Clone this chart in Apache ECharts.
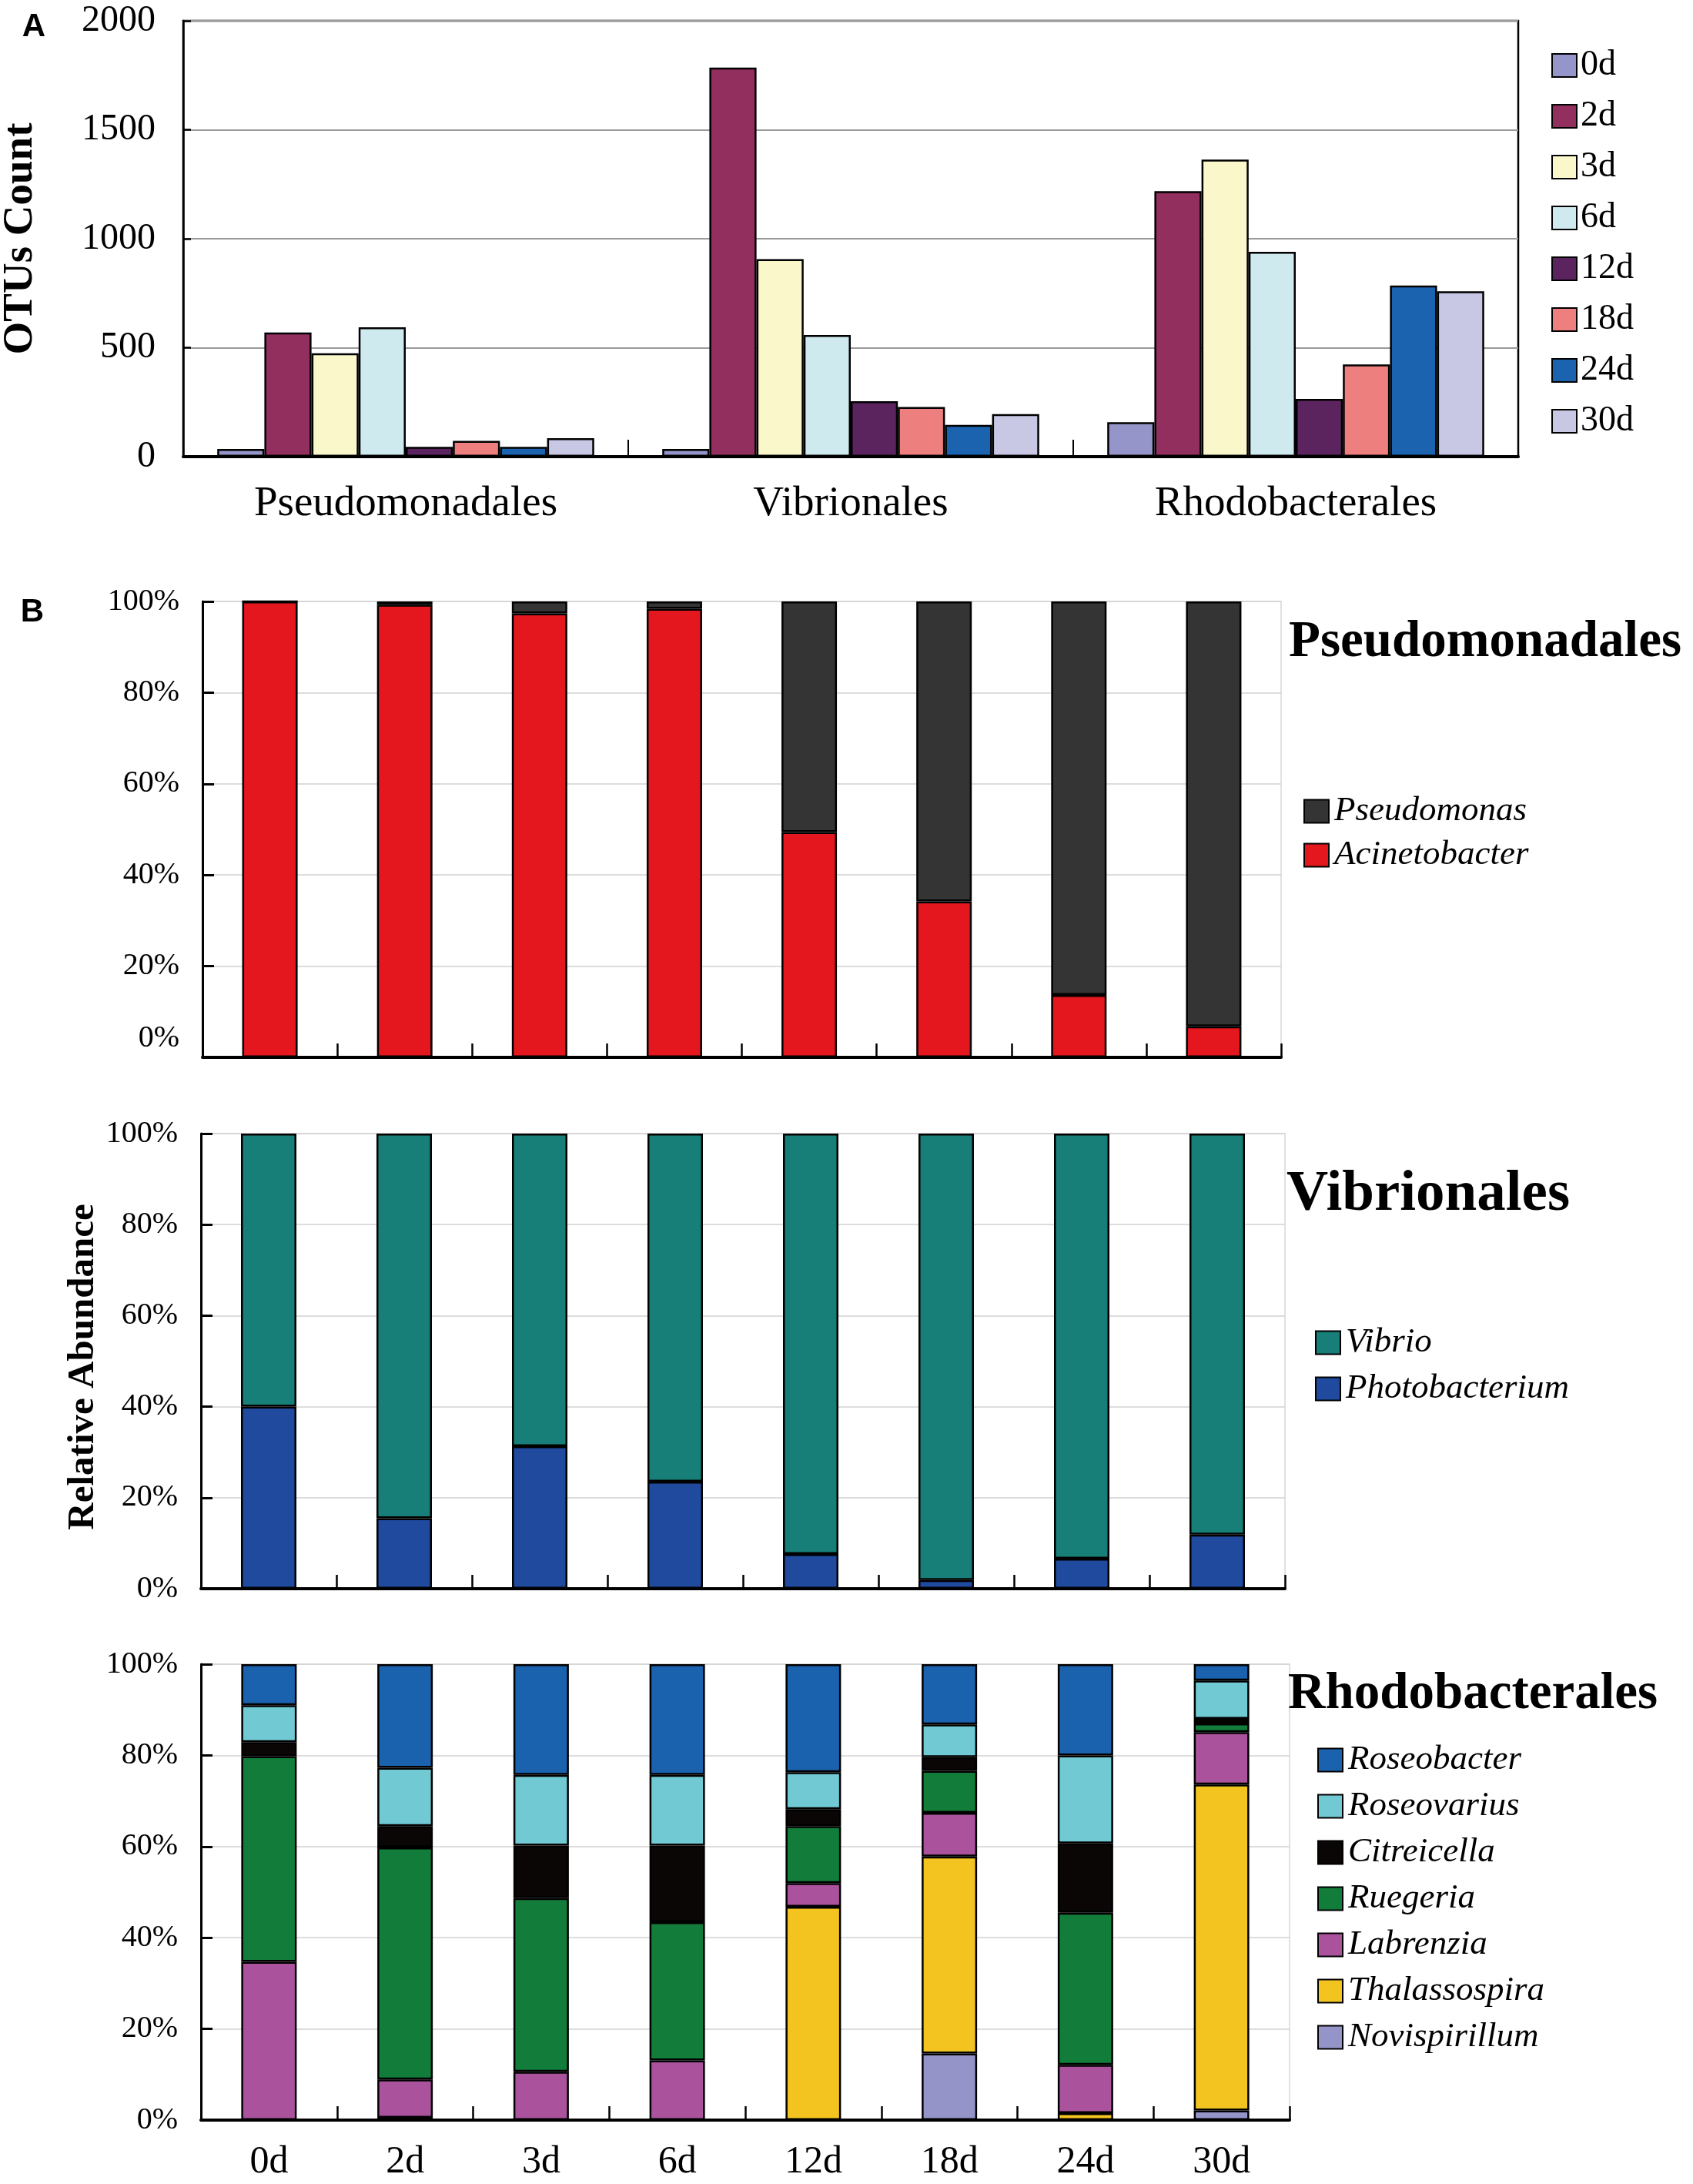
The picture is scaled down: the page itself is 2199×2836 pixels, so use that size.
<!DOCTYPE html>
<html>
<head>
<meta charset="utf-8">
<script src="https://cdn.jsdelivr.net/npm/echarts@6/dist/echarts.min.js"></script>
<style>
html,body{margin:0;padding:0;background:#fff;}
#chart{width:2199px;height:2836px;}
</style>
</head>
<body>
<div id="chart"></div>
<script>
// ---------- Panel A data ----------
const ordersA = ['Pseudomonadales', 'Vibrionales', 'Rhodobacterales'];
const dayNames = ['0d', '2d', '3d', '6d', '12d', '18d', '24d', '30d'];
const otu_0d  = [35, 35, 158];
const otu_2d  = [570, 1785, 1218];
const otu_3d  = [474, 906, 1363];
const otu_6d  = [594, 558, 940];
const otu_12d = [45, 254, 265];
const otu_18d = [72, 228, 423];
const otu_24d = [45, 146, 785];
const otu_30d = [85, 195, 759];
const otuTicks = [0, 500, 1000, 1500, 2000];

// ---------- Panel B data (relative abundance, %) ----------
const pseudomonas   = [0, 0.7, 2.6, 1.6, 50.6, 65.8, 86.3, 93.2];
const acinetobacter = [100, 99.3, 97.4, 98.4, 49.4, 34.2, 13.7, 6.8];

const vibrio         = [60.0, 84.5, 68.7, 76.5, 92.4, 98.1, 93.4, 88.1];
const photobacterium = [40.0, 15.5, 31.3, 23.5, 7.6, 1.9, 6.6, 11.9];

const roseobacter   = [9.0, 22.7, 24.3, 24.3, 23.7, 13.2, 20.0, 3.6];
const roseovarius   = [8.1, 12.8, 15.5, 15.5, 8.1, 7.2, 19.3, 8.4];
const citreicella   = [3.1, 4.7, 11.5, 16.8, 3.7, 3.0, 15.2, 1.0];
const ruegeria      = [45.1, 50.9, 38.1, 30.3, 12.5, 9.2, 33.4, 1.9];
const labrenzia     = [34.7, 8.4, 10.6, 13.1, 5.2, 9.6, 10.6, 11.5];
const thalassospira = [0, 0.5, 0, 0, 46.8, 43.2, 1.5, 71.5];
const novispirillum = [0, 0, 0, 0, 0, 14.6, 0, 2.1];

// ---------- styling ----------
const serif = '"Liberation Serif", "Times New Roman", serif';
const sans = '"Liberation Sans", Arial, sans-serif';
const colorsA = ['#9595C9', '#932F5F', '#FAF8CB', '#CFEAEE', '#5C245F', '#EE7F7F', '#1B63AF', '#C9C8E4'];
const valuesA = [otu_0d, otu_2d, otu_3d, otu_6d, otu_12d, otu_18d, otu_24d, otu_30d];

const series = [];
dayNames.forEach((d, i) => {
  series.push({
    name: d, type: 'bar', xAxisIndex: 0, yAxisIndex: 0,
    data: valuesA[i], barGap: '0%', barCategoryGap: '15.3%',
    itemStyle: { color: colorsA[i], borderColor: '#000', borderWidth: 2.5 }
  });
});

function stackBar(name, data, color, idx, stack) {
  return {
    name: name, type: 'bar', stack: stack, xAxisIndex: idx, yAxisIndex: idx,
    data: data, barWidth: 72,
    itemStyle: { color: color, borderColor: '#000', borderWidth: 2.5 }
  };
}
series.push(stackBar('Acinetobacter', acinetobacter, '#E3171D', 1, 'p'));
series.push(stackBar('Pseudomonas', pseudomonas, '#333433', 1, 'p'));
series.push(stackBar('Photobacterium', photobacterium, '#1F4A9E', 2, 'v'));
series.push(stackBar('Vibrio', vibrio, '#177E78', 2, 'v'));
series.push(stackBar('Novispirillum', novispirillum, '#9494C8', 3, 'r'));
series.push(stackBar('Thalassospira', thalassospira, '#F3C420', 3, 'r'));
series.push(stackBar('Labrenzia', labrenzia, '#AA539C', 3, 'r'));
series.push(stackBar('Ruegeria', ruegeria, '#127D3B', 3, 'r'));
series.push(stackBar('Citreicella', citreicella, '#0A0605', 3, 'r'));
series.push(stackBar('Roseovarius', roseovarius, '#70C9D3', 3, 'r'));
series.push(stackBar('Roseobacter', roseobacter, '#1B62AE', 3, 'r'));

function xAxisB(idx, showLabels) {
  return {
    type: 'category', gridIndex: idx, data: dayNames, boundaryGap: true,
    axisLine: { lineStyle: { color: '#000', width: 4 } },
    axisTick: { show: true, inside: true, length: 18, alignWithLabel: false, lineStyle: { color: '#000', width: 2.5 } },
    axisLabel: { show: showLabels, fontFamily: serif, fontSize: 50, color: '#000', margin: 30 }
  };
}
function yAxisB(idx, raiseZero) {
  return {
    type: 'value', gridIndex: idx, min: 0, max: 100, interval: 20,
    axisLine: { show: true, lineStyle: { color: '#000', width: 3 } },
    axisTick: { show: true, inside: true, length: 15, lineStyle: { color: '#000', width: 3 } },
    splitLine: { show: true, lineStyle: { color: '#d2d2d2', width: 1.5 } },
    axisLabel: {
      fontFamily: serif, fontSize: 40, color: '#000', margin: 30,
      formatter: function (v) { return (raiseZero && v === 0) ? '{z|0%}' : v + '%'; },
      rich: { z: { fontFamily: serif, fontSize: 40, color: '#000', padding: [0, 0, 50, 0] } }
    }
  };
}
function legendB(names, left, top, gap) {
  return {
    data: names, orient: 'vertical', left: left, top: top, icon: 'rect',
    itemWidth: 32, itemHeight: 30, itemGap: gap, selectedMode: false,
    textStyle: { fontFamily: serif, fontStyle: 'italic', fontSize: 45, color: '#000', padding: [0, 0, 0, 2] }
  };
}
function gtext(text, x, y, size, weight, family, rot, align) {
  return {
    type: 'text', x: x, y: y, rotation: rot || 0,
    style: {
      text: text, fontSize: size, fontWeight: weight, fontFamily: family, fill: '#000',
      align: align || 'center', verticalAlign: 'middle',
      textAlign: align || 'center', textVerticalAlign: 'middle'
    }
  };
}

const option = {
  animation: false,
  backgroundColor: '#fff',
  grid: [
    { left: 238, top: 27, width: 1734, height: 566, show: true, borderColor: '#000', borderWidth: 2.5 },
    { left: 263, top: 781, width: 1401, height: 592, show: true, borderColor: '#d8d8d8', borderWidth: 1.5 },
    { left: 261, top: 1472, width: 1408, height: 591, show: true, borderColor: '#d8d8d8', borderWidth: 1.5 },
    { left: 261, top: 2161, width: 1414, height: 592, show: true, borderColor: '#d8d8d8', borderWidth: 1.5 }
  ],
  xAxis: [
    {
      type: 'category', gridIndex: 0, data: ordersA,
      axisLine: { lineStyle: { color: '#000', width: 4 } },
      axisTick: { show: true, inside: true, length: 22, alignWithLabel: false, lineStyle: { color: '#000', width: 2 } },
      axisLabel: { fontFamily: serif, fontSize: 55, color: '#000', margin: 34 }
    },
    xAxisB(1, false), xAxisB(2, false), xAxisB(3, true)
  ],
  yAxis: [
    {
      type: 'value', gridIndex: 0, min: otuTicks[0], max: otuTicks[otuTicks.length - 1], interval: 500,
      axisLine: { show: true, lineStyle: { color: '#000', width: 2.5 } },
      axisTick: { show: true, inside: true, length: 10, lineStyle: { color: '#000', width: 2.5 } },
      splitLine: { show: true, lineStyle: { color: '#9a9a9a', width: 2 } },
      axisLabel: { fontFamily: serif, fontSize: 48, color: '#000', margin: 36, formatter: function (v) { return String(v); } }
    },
    yAxisB(1, true), yAxisB(2, false), yAxisB(3, false)
  ],
  legend: [
    {
      data: dayNames, orient: 'vertical', left: 2010, top: 57, icon: 'rect',
      itemWidth: 32, itemHeight: 30, itemGap: 20, selectedMode: false,
      textStyle: { fontFamily: serif, fontSize: 46, color: '#000', padding: [0, 0, 0, 0] }
    },
    legendB(['Pseudomonas', 'Acinetobacter'], 1688, 1026, 12),
    legendB(['Vibrio', 'Photobacterium'], 1703, 1716, 15),
    legendB(['Roseobacter', 'Roseovarius', 'Citreicella', 'Ruegeria', 'Labrenzia', 'Thalassospira', 'Novispirillum'], 1706, 2258, 15)
  ],
  graphic: [
    gtext('A', 44, 35, 42, 'bold', sans),
    gtext('B', 42, 795, 42, 'bold', sans),
    gtext('OTUs Count', 27, 310, 55, 'bold', serif, Math.PI / 2),
    gtext('Relative Abundance', 108, 1775, 49, 'bold', serif, Math.PI / 2),
    gtext('Pseudomonadales', 1674, 835, 67, 'bold', serif, 0, 'left'),
    gtext('Vibrionales', 1671, 1552, 75, 'bold', serif, 0, 'left'),
    gtext('Rhodobacterales', 1673, 2201, 67, 'bold', serif, 0, 'left')
  ],
  series: series
};

const chart = echarts.init(document.getElementById('chart'), null, { renderer: 'canvas' });
chart.setOption(option);
</script>
</body>
</html>
